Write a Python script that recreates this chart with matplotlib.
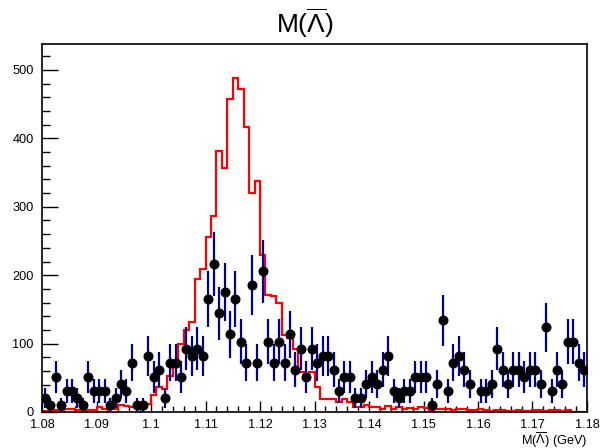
import numpy as np
import matplotlib
matplotlib.use("Agg")
import matplotlib.pyplot as plt
from matplotlib.ticker import MultipleLocator, FuncFormatter

plt.rcParams['font.family'] = ['Liberation Sans', 'DejaVu Sans']
plt.rcParams['mathtext.fontset'] = 'custom'
plt.rcParams['mathtext.rm'] = 'Liberation Sans'
plt.rcParams['mathtext.it'] = 'Liberation Sans'

# --- binning: 100 bins from 1.08 to 1.18 GeV ---
x_min, x_max, n_bins = 1.08, 1.18, 100
edges = np.linspace(x_min, x_max, n_bins + 1)
centers = 0.5 * (edges[:-1] + edges[1:])

# --- data (weighted entries per bin, each entry ~10.3) ---
event_weight = 10.3
data_counts = [2, 1, 5, 1, 3, 3, 2, 1, 5, 3, 3, 3, 1, 2, 4, 3, 7, 1, 1, 8, 5,
               6, 2, 7, 7, 5, 9, 8, 9, 8, 16, 21, 14, 17, 11, 16, 10, 7, 18, 7, 20,
               10, 7, 10, 7, 11, 6, 9, 5, 9, 7, 8, 8, 6, 3, 5, 5, 2, 2, 4, 5,
               4, 6, 8, 3, 2, 3, 3, 5, 5, 5, 1, 4, 13, 3, 7, 8, 6, 4, 0, 3,
               3, 4, 9, 6, 4, 6, 6, 5, 6, 6, 4, 12, 3, 6, 4, 10, 10, 7, 6]

# --- MC histogram (red) ---
mc_values = [2, 2, 3, 3, 5, 5, 3, 3, 3, 3, 7, 5, 5, 5, 10, 9, 8, 8, 8, 12,
             25, 36, 33, 52, 75, 100, 120, 132, 194, 209, 256, 287, 382, 356, 457,
             489, 472, 417, 320, 337, 229, 171, 169, 160, 112, 108, 92, 59, 54, 59,
             36, 19, 19, 19, 15, 19, 15, 8, 8, 10, 7,
             7, 4, 9, 5, 7, 4, 6, 5, 8, 6, 3, 4, 4, 4, 3, 4, 4, 3, 3, 4,
             3, 2, 3, 3, 2, 2, 3, 2, 2, 3, 3, 2, 3, 3, 2, 3, 0, 0, 0]

counts = np.array(data_counts, dtype=float)
y_data = counts * event_weight
y_err = np.sqrt(counts) * event_weight
mask = counts > 0

# --- figure ---
fig = plt.figure(figsize=(6.01, 4.48), dpi=100)
ax = fig.add_axes([0.0699, 0.0804, 0.9068, 0.8214])

ax.stairs(mc_values, edges, color='red', lw=1.6, baseline=None, zorder=2)
ax.errorbar(centers[mask], y_data[mask], yerr=y_err[mask], fmt='none',
            ecolor='#00009a', elinewidth=1.6, capsize=0, zorder=3)
ax.plot(centers[mask], y_data[mask], 'o', color='black', ms=6.2, zorder=4)

ax.set_xlim(x_min, x_max)
ax.set_ylim(0, 538)

# ROOT-like ticks
ax.xaxis.set_major_locator(MultipleLocator(0.01))
ax.xaxis.set_minor_locator(MultipleLocator(0.002))
ax.yaxis.set_major_locator(MultipleLocator(100))
ax.yaxis.set_minor_locator(MultipleLocator(20))
ax.xaxis.set_major_formatter(FuncFormatter(lambda v, p: f"{v:g}"))
ax.tick_params(axis='x', which='major', direction='in', length=8, width=1,
               labelsize=9.2, pad=5, top=False)
ax.tick_params(axis='x', which='minor', direction='in', length=4, width=1, top=False)
ax.tick_params(axis='y', which='major', direction='in', length=11.5, width=1,
               labelsize=9.2, pad=6, right=False)
ax.tick_params(axis='y', which='minor', direction='in', length=6, width=1, right=False)
for s in ax.spines.values():
    s.set_linewidth(1.2)

fig.text(0.508, 0.948, r'M($\overline{\Lambda}$)', ha='center', va='center', fontsize=19)
fig.text(0.977, 0.018, r'M($\overline{\Lambda}$) (GeV)', ha='right', va='center', fontsize=9.2)

fig.savefig('out.png', dpi=100)
